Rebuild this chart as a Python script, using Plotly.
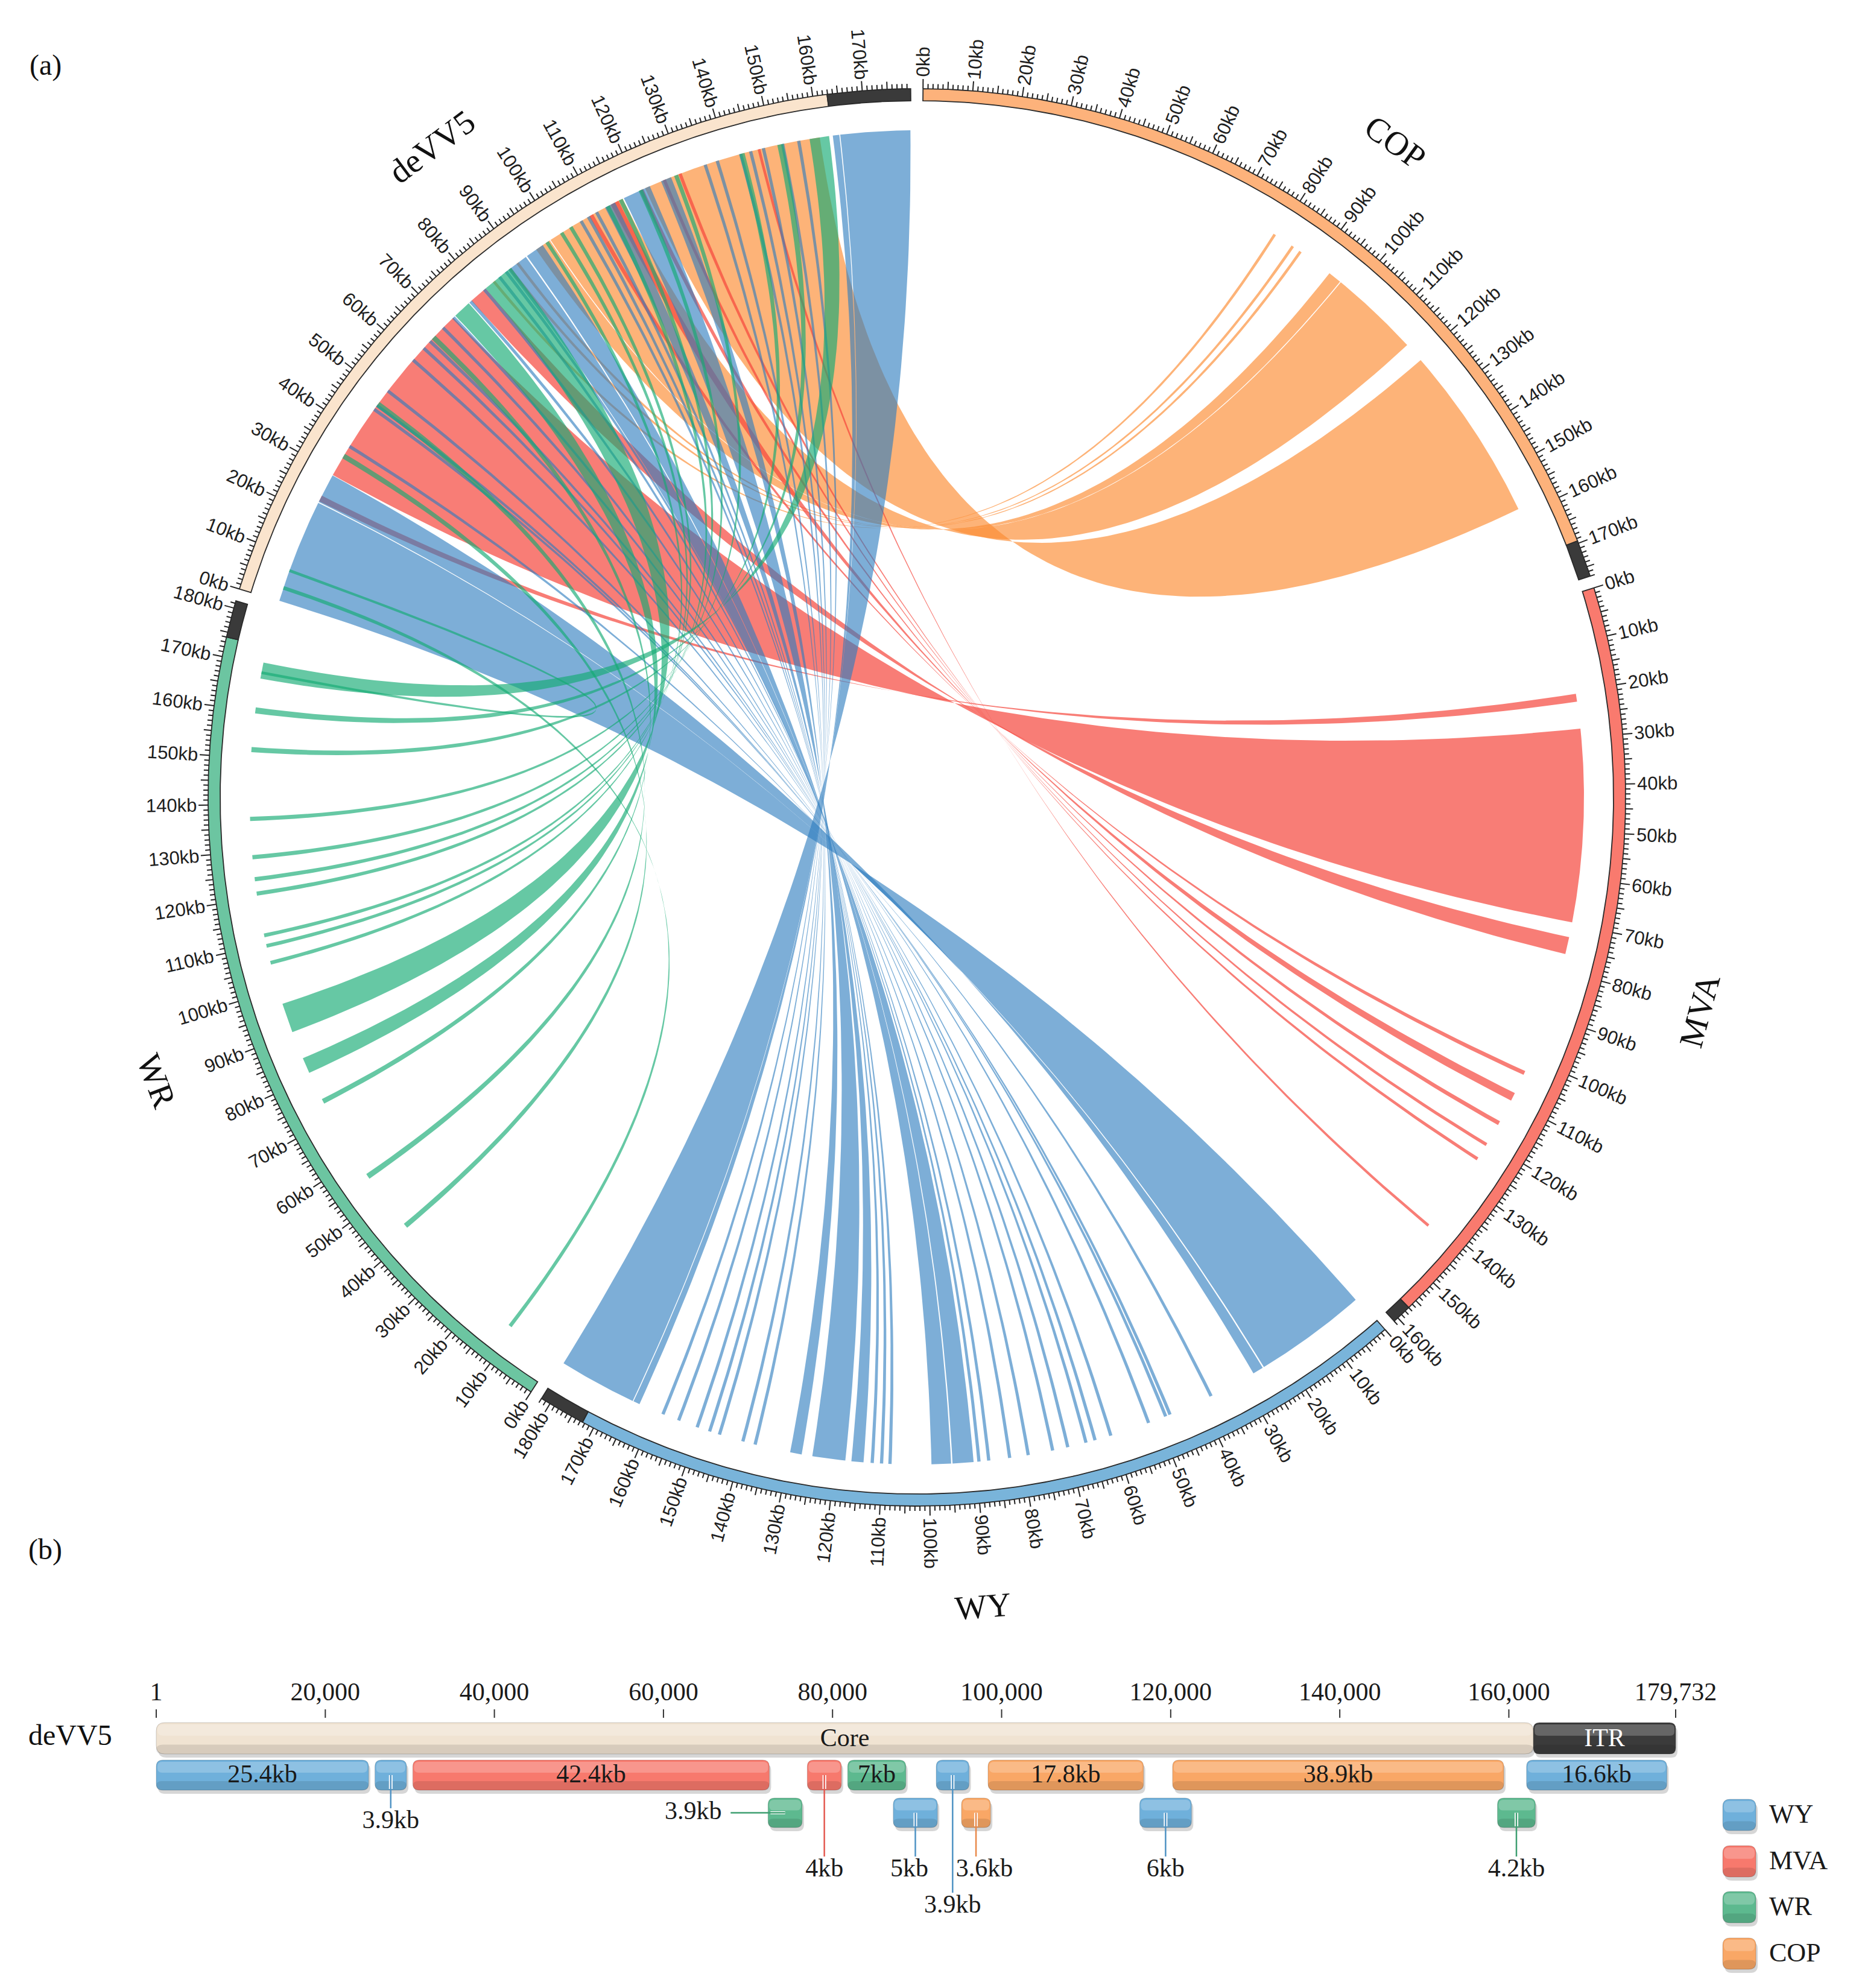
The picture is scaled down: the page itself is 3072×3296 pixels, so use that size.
import numpy as np
import plotly.graph_objects as go

W, H = 3072, 3296

# ------------------------------------------------------------------ data (a)
genome_names = ["COP", "MVA", "WY", "WR", "deVV5"]
genome_len_kb = [177.0, 161.0, 182.0, 181.5, 179.732]
itr_start_kb = [169.5, 157.0, 172.5, 174.0, 162.9]
ring_colors = ["#fdb27b", "#f97a6e", "#79b4da", "#6cc5a1", "#fae4cd"]
itr_color = "#3a3a3a"

# alignments deVV5 -> COP
cop_dv_start = [121.3, 98.3, 94.6, 83.0, 87.4, 89.4]
cop_dv_end = [160.2, 116.0, 98.1, 83.6, 88.0, 90.0]
cop_start = [120.5, 96.7, 93.6, 79.0, 83.6, 85.6]
cop_end = [158.6, 116.2, 96.5, 79.6, 84.2, 86.2]

# alignments deVV5 -> MVA
mva_dv_start = [29.3, 77.0, 23.0, 108.0, 113.2, 120.0, 125.4, 129.0, 146.7]
mva_dv_end = [71.7, 81.0, 24.3, 108.9, 115.0, 120.9, 126.1, 129.7, 147.3]
mva_start = [28.0, 72.7, 20.5, 102.8, 108.0, 114.8, 120.2, 123.8, 141.5]
mva_end = [69.5, 76.4, 22.2, 103.7, 109.8, 115.7, 120.9, 124.5, 142.1]

# alignments deVV5 -> WY
wy_dv_start = [0.1, 22.8, 87.2, 92.2, 116.3, 163.0, 164.6, 125.0, 111.8, 155.3, 151.8,
               147.6, 144.8, 142.6, 137.4, 134.7, 109.4, 107.4, 105.6, 86.3, 84.5, 80.3,
               76.4, 71.4, 68.3, 64.3, 62.3, 58.9, 50.4, 46.5, 45.5, 36.0]
wy_dv_end = [22.6, 29.2, 91.9, 96.3, 122.4, 164.4, 179.6, 127.3, 114.2, 156.0, 152.5,
             148.3, 145.5, 143.3, 138.1, 135.4, 110.1, 108.1, 106.3, 87.0, 85.2, 81.0,
             77.1, 72.1, 69.0, 65.0, 63.0, 59.6, 51.1, 47.2, 46.2, 36.7]
wy_start = [0.5, 25.1, 90.5, 95.3, 117.9, 163.6, 165.2, 127.3, 114.0, 157.8, 154.2,
            150.0, 147.2, 145.0, 139.8, 137.1, 111.8, 109.8, 108.0, 89.0, 86.9, 82.4,
            78.4, 73.1, 69.8, 65.8, 63.8, 60.3, 51.8, 47.9, 46.9, 37.3]
wy_end = [24.8, 27.4, 95.0, 99.5, 125.0, 165.0, 182.0, 129.8, 116.6, 158.5, 154.9,
          150.7, 147.9, 145.7, 140.5, 137.8, 112.5, 110.5, 108.7, 89.7, 87.6, 83.1,
          79.1, 73.8, 70.5, 66.5, 64.5, 61.0, 52.5, 48.6, 47.6, 38.0]

# alignments deVV5 -> WR
wr_dv_start = [158.0, 81.0, 72.3, 151.0, 142.7, 128.0, 119.8, 115.1, 112.0, 103.0, 100.7,
               97.0, 65.2, 46.6, 33.4, 2.6, 6.6]
wr_dv_end = [162.2, 88.0, 76.2, 152.3, 143.8, 128.9, 120.7, 116.0, 112.9, 103.8, 101.5,
             97.8, 66.3, 47.8, 34.5, 3.4, 7.2]
wr_start = [167.0, 90.4, 81.0, 159.5, 151.2, 136.5, 128.3, 123.6, 120.5, 111.5, 109.2,
            105.5, 73.7, 55.0, 41.8, 11.0, 168.0]
wr_end = [170.5, 96.8, 84.4, 160.8, 152.3, 137.4, 129.2, 124.5, 121.4, 112.3, 110.0,
          106.3, 74.8, 56.2, 42.9, 11.8, 168.6]

ribbon_rgba = {"COP": "rgba(252,140,50,0.66)", "MVA": "rgba(245,70,60,0.70)",
               "WY": "rgba(45,125,190,0.62)", "WR": "rgba(20,170,115,0.65)"}

# ------------------------------------------------------------------ data (b)
b_tick_pos = [1, 20000, 40000, 60000, 80000, 100000, 120000, 140000, 160000, 179732]
b_tick_text = ["1", "20,000", "40,000", "60,000", "80,000", "100,000", "120,000",
               "140,000", "160,000", "179,732"]
genome_total_bp = 179732
core_end_bp = 162900
seg_label = ["25.4kb", "3.9kb", "42.4kb", "3.9kb", "4kb", "7kb", "5kb", "3.9kb", "3.6kb",
             "17.8kb", "6kb", "38.9kb", "4.2kb", "16.6kb"]
seg_source = ["WY", "WY", "MVA", "WR", "MVA", "WR", "WY", "WY", "COP", "COP", "WY", "COP",
              "WR", "WY"]
seg_start = [1, 25870, 30350, 72370, 77010, 81790, 87180, 92260, 95250, 98390, 116330,
             120220, 158650, 162090]
seg_end = [25120, 29610, 72520, 76410, 81050, 88670, 92410, 96150, 98690, 116780, 122460,
           159400, 163140, 178690]
seg_row = [1, 1, 1, 2, 1, 1, 2, 1, 2, 1, 2, 1, 2, 1]
seg_mode = ["in", "below", "in", "left", "below", "in", "below", "below2", "below", "in",
            "below", "in", "below", "in"]
legend_names = ["WY", "MVA", "WR", "COP"]
box_colors = {"WY": "#6fb0db", "MVA": "#f7796d", "WR": "#5db98f", "COP": "#f9a766"}
leader_colors = {"WY": "#4f93c4", "MVA": "#e45a50", "WR": "#3f9f72", "COP": "#e8894a"}

# ------------------------------------------------------------------ geometry (a)
R_PX = 1175.0
CX, CY = 1512.0, 1314.0
R_IN = 1 - 20 / R_PX
R_RIB = 1106 / R_PX
GAP = 1.0
K = (360 - GAP * len(genome_names)) / sum(genome_len_kb)
seg_start_deg = {}
_a = GAP / 2
for g, L in zip(genome_names, genome_len_kb):
    seg_start_deg[g] = _a
    _a += L * K + GAP


def ang(g, kb):
    return seg_start_deg[g] + np.asarray(kb) * K


def pol(r, deg):
    t = np.radians(deg)
    return r * np.sin(t), r * np.cos(t)


fig = go.Figure()


def add_ribbon(tg, s1, s2, t1, t2):
    a1, a2 = ang("deVV5", s1), ang("deVV5", s2)
    b1, b2 = ang(tg, t1), ang(tg, t2)
    n1 = max(3, int(abs(a2 - a1) * 4) + 2)
    n2 = max(3, int(abs(b2 - b1) * 4) + 2)
    t = np.linspace(0, 1, 90)
    xs, ys = [], []
    ax_, ay_ = pol(R_RIB, np.linspace(a1, a2, n1))
    xs += list(ax_); ys += list(ay_)
    p0 = pol(R_RIB, a2); p2 = pol(R_RIB, b2)
    xs += list((1 - t) ** 2 * p0[0] + t ** 2 * p2[0])
    ys += list((1 - t) ** 2 * p0[1] + t ** 2 * p2[1])
    bx_, by_ = pol(R_RIB, np.linspace(b2, b1, n2))
    xs += list(bx_); ys += list(by_)
    p0 = pol(R_RIB, b1); p2 = pol(R_RIB, a1)
    xs += list((1 - t) ** 2 * p0[0] + t ** 2 * p2[0])
    ys += list((1 - t) ** 2 * p0[1] + t ** 2 * p2[1])
    fig.add_trace(go.Scatter(x=xs, y=ys, mode="lines", fill="toself",
                             fillcolor=ribbon_rgba[tg], line=dict(width=0),
                             hoverinfo="skip", showlegend=False))


for tg, ds, de, ts, te in [("COP", cop_dv_start, cop_dv_end, cop_start, cop_end),
                           ("MVA", mva_dv_start, mva_dv_end, mva_start, mva_end),
                           ("WY", wy_dv_start, wy_dv_end, wy_start, wy_end),
                           ("WR", wr_dv_start, wr_dv_end, wr_start, wr_end)]:
    for i in range(len(ds)):
        add_ribbon(tg, ds[i], de[i], ts[i], te[i])

# ring segments
for gi, g in enumerate(genome_names):
    L = genome_len_kb[gi]
    for (k0, k1, col) in [(0, itr_start_kb[gi], ring_colors[gi]), (itr_start_kb[gi], L, itr_color)]:
        th = np.linspace(ang(g, k0), ang(g, k1), 200)
        ox, oy = pol(1.0, th)
        ix, iy = pol(R_IN, th[::-1])
        fig.add_trace(go.Scatter(x=list(ox) + list(ix) + [ox[0]], y=list(oy) + list(iy) + [oy[0]],
                                 mode="lines", fill="toself", fillcolor=col,
                                 line=dict(color="#2a2a2a", width=1.8),
                                 hoverinfo="skip", showlegend=False))

# ticks
TICK_MIN, TICK_MID, TICK_MAJ = 8.0, 12.5, 16.0
tx, ty = [], []
for gi, g in enumerate(genome_names):
    L = genome_len_kb[gi]
    for kb in range(0, int(L) + 1):
        if kb % 10 == 0:
            ln = TICK_MAJ
        elif kb % 5 == 0:
            ln = TICK_MID
        else:
            ln = TICK_MIN
        th = ang(g, kb)
        x0, y0 = pol(1.0, th)
        x1, y1 = pol(1 + ln / R_PX, th)
        tx += [x0, x1, None]; ty += [y0, y1, None]
fig.add_trace(go.Scatter(x=tx, y=ty, mode="lines", line=dict(color="#222222", width=2),
                         hoverinfo="skip", showlegend=False))

annotations = []
FS_TICK = 31
for gi, g in enumerate(genome_names):
    L = genome_len_kb[gi]
    for kb in range(0, int(L) + 1, 10):
        th = float(ang(g, kb)) % 360
        txt = f"{kb}kb"
        tl = len(txt) * 0.545 * FS_TICK
        rc = 1 + (TICK_MAJ + 3 + tl / 2) / R_PX
        x, y = pol(rc, th)
        ta = th - 90 if th < 180 else th - 270
        annotations.append(dict(x=float(x), y=float(y), xref="x", yref="y", text=txt,
                                showarrow=False, textangle=ta, xanchor="center",
                                yanchor="middle",
                                font=dict(family="Liberation Sans, Arial", size=FS_TICK,
                                          color="#1e1e1e")))

for gi, g in enumerate(genome_names):
    mid = float(ang(g, genome_len_kb[gi] / 2)) % 360
    x, y = pol(1.145, mid)
    if mid < 90:
        ta = mid
    elif mid < 270:
        ta = mid - 180
    else:
        ta = mid - 360
    annotations.append(dict(x=float(x), y=float(y), xref="x", yref="y", text=g,
                            showarrow=False, textangle=ta, xanchor="center", yanchor="middle",
                            font=dict(family="Liberation Serif, Times New Roman", size=56,
                                      color="#111111")))

for txt, px, py in [("(a)", 67, 100), ("(b)", 67, 2561)]:
    annotations.append(dict(x=px / W, y=1 - py / H, xref="paper", yref="paper", text=txt,
                            showarrow=False, xanchor="center", yanchor="middle",
                            font=dict(family="Liberation Serif, Times New Roman", size=48,
                                      color="#111111")))

# ------------------------------------------------------------------ panel (b)
X0_PX, X1_PX = 251.0, 2770.0
BPPX = genome_total_bp / (X1_PX - X0_PX)


def px2bp(px):
    return (px - X0_PX) * BPPX


shapes = []


def rrect(x0, x1, y0, y1, r_px):
    rx = min(r_px * BPPX, (x1 - x0) / 2)
    ry = min(r_px, (y1 - y0) / 2)
    return (f"M{x0 + rx},{y0} L{x1 - rx},{y0} Q{x1},{y0} {x1},{y0 + ry} "
            f"L{x1},{y1 - ry} Q{x1},{y1} {x1 - rx},{y1} L{x0 + rx},{y1} "
            f"Q{x0},{y1} {x0},{y1 - ry} L{x0},{y0 + ry} Q{x0},{y0} {x0 + rx},{y0} Z")


def glossy_box(x0, x1, y0, y1, color, r=11):
    h = y1 - y0
    shapes.append(dict(type="path", xref="x2", yref="y2", layer="below",
                       path=rrect(x0 + 3 * BPPX, x1 + 3 * BPPX, y0 + 6, y1 + 6, r),
                       fillcolor="rgba(0,0,0,0.16)", line=dict(width=0)))
    shapes.append(dict(type="path", xref="x2", yref="y2", layer="below",
                       path=rrect(x0, x1, y0, y1, r), fillcolor=color,
                       line=dict(color="rgba(0,0,0,0.18)", width=1)))
    shapes.append(dict(type="path", xref="x2", yref="y2", layer="below",
                       path=rrect(x0 + 2 * BPPX, x1 - 2 * BPPX, y0 + 3, y0 + 0.42 * h, r * 0.7),
                       fillcolor="rgba(255,255,255,0.22)", line=dict(width=0)))
    shapes.append(dict(type="path", xref="x2", yref="y2", layer="below",
                       path=rrect(x0, x1, y1 - 0.3 * h, y1, r * 0.8),
                       fillcolor="rgba(0,0,0,0.10)", line=dict(width=0)))


def vline(x, y0, y1, color, w):
    shapes.append(dict(type="line", xref="x2", yref="y2", layer="below", x0=x, x1=x,
                       y0=y0, y1=y1, line=dict(color=color, width=w)))


BAR_Y = (2848, 2900)
ROW_Y = {1: (2910, 2960), 2: (2973, 3022)}

for p in b_tick_pos:
    vline(p, 2826, 2840, "#333333", 2)
fig.add_trace(go.Scatter(x=b_tick_pos, y=[2800] * len(b_tick_pos), xaxis="x2", yaxis="y2",
                         mode="text", text=b_tick_text, textposition="middle center",
                         textfont=dict(family="Liberation Serif, Times New Roman", size=42,
                                       color="#1a1a1a"),
                         hoverinfo="skip", showlegend=False))

glossy_box(1, core_end_bp, BAR_Y[0], BAR_Y[1], "#f0e3d2", r=14)
glossy_box(core_end_bp, genome_total_bp, BAR_Y[0], BAR_Y[1], "#3b3b3b", r=10)

txt_x, txt_y, txt_s, txt_c = [], [], [], []
txt_x += [(1 + core_end_bp) / 2, (core_end_bp + genome_total_bp) / 2]
txt_y += [2876, 2876]
txt_s += ["Core", "ITR"]
txt_c += ["#1a1a1a", "#ffffff"]

for i in range(len(seg_label)):
    x0, x1 = seg_start[i], seg_end[i]
    y0, y1 = ROW_Y[seg_row[i]]
    src = seg_source[i]
    glossy_box(x0, x1, y0, y1, box_colors[src])
    xc = (x0 + x1) / 2
    yc = (y0 + y1) / 2
    mode = seg_mode[i]
    if mode == "in":
        txt_x.append(xc); txt_y.append(yc + 1); txt_s.append(seg_label[i]); txt_c.append("#1a1a1a")
    elif mode == "left":
        lx_px = X0_PX + x0 / BPPX - 62
        shapes.append(dict(type="line", xref="x2", yref="y2", layer="below",
                           x0=x0 + 4 * BPPX, x1=xc, y0=yc, y1=yc,
                           line=dict(color="white", width=5)))
        shapes.append(dict(type="line", xref="x2", yref="y2", layer="below",
                           x0=px2bp(lx_px), x1=xc, y0=yc, y1=yc,
                           line=dict(color=leader_colors[src], width=2.5)))
        txt_x.append(px2bp(lx_px - 62)); txt_y.append(yc); txt_s.append(seg_label[i]); txt_c.append("#1a1a1a")
    else:
        if mode == "below":
            ly = 3012 if seg_row[i] == 1 and seg_label[i] == "3.9kb" else 3092
        else:
            ly = 3152
        dx = 0
        if seg_label[i] == "3.6kb":
            dx = 14 * BPPX
        if seg_label[i] == "5kb":
            dx = -10 * BPPX
        vline(xc, yc, y1 - 2, "white", 6)
        vline(xc, yc, ly - 22, leader_colors[src], 2.5)
        txt_x.append(xc + dx); txt_y.append(ly); txt_s.append(seg_label[i]); txt_c.append("#1a1a1a")

leg_y = [3001, 3078, 3154, 3231]
for name, yc in zip(legend_names, leg_y):
    glossy_box(px2bp(2848), px2bp(2903), yc - 26, yc + 26, box_colors[name], r=12)

fig.add_trace(go.Scatter(x=txt_x, y=txt_y, xaxis="x2", yaxis="y2", mode="text", text=txt_s,
                         textposition="middle center",
                         textfont=dict(family="Liberation Serif, Times New Roman", size=42,
                                       color=txt_c),
                         hoverinfo="skip", showlegend=False))
fig.add_trace(go.Scatter(x=[px2bp(2925)] * 4, y=[y + 2 for y in leg_y], xaxis="x2", yaxis="y2",
                         mode="text", text=legend_names, textposition="middle right",
                         textfont=dict(family="Liberation Serif, Times New Roman", size=44,
                                       color="#1a1a1a"),
                         hoverinfo="skip", showlegend=False))

annotations.append(dict(x=108 / W, y=1 - 2868 / H, xref="paper", yref="paper", text="deVV5",
                        showarrow=False, xanchor="center", yanchor="middle",
                        font=dict(family="Liberation Serif, Times New Roman", size=48,
                                  color="#111111")))

fig.update_layout(
    width=W, height=H, margin=dict(l=0, r=0, t=0, b=0),
    paper_bgcolor="white", plot_bgcolor="rgba(0,0,0,0)",
    showlegend=False,
    xaxis=dict(range=[-CX / R_PX, (W - CX) / R_PX], domain=[0, 1], visible=False,
               fixedrange=True),
    yaxis=dict(range=[-(H - CY) / R_PX, CY / R_PX], domain=[0, 1], visible=False,
               fixedrange=True),
    xaxis2=dict(range=[px2bp(0), px2bp(W)], domain=[0, 1], anchor="y2", visible=False,
                fixedrange=True),
    yaxis2=dict(range=[H, 0], domain=[0, 1], anchor="x2", visible=False, fixedrange=True),
    annotations=annotations,
    shapes=shapes,
)

fig.write_html("out.html")
